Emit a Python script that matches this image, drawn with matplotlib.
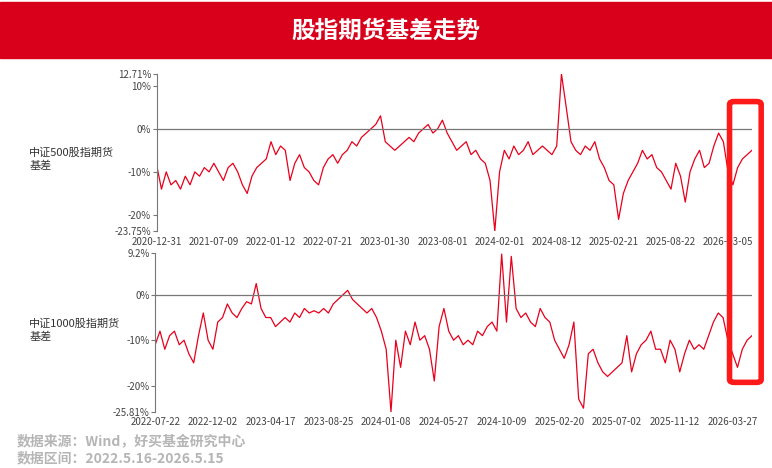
import matplotlib
matplotlib.use("Agg")
import matplotlib.pyplot as plt
from matplotlib.patches import Rectangle, FancyBboxPatch

plt.rcParams['font.family'] = ['Noto Sans CJK SC', 'DejaVu Sans']

top_ticks = ["2020-12-31","2021-07-09","2022-01-12","2022-07-21","2023-01-30","2023-08-01",
             "2024-02-01","2024-08-12","2025-02-21","2025-08-22","2026-03-05"]
top_vals = [-8.5,-14,-10,-13,-12,-14,-11,-13,-10,-11,-9,-10,
            -8,-10,-12,-9,-8,-10,-13,-15,-11,-9,-8,-7,
            -3,-6,-4,-5,-12,-8,-6,-9,-10,-12,-13,-9,
            -7,-6,-8,-6,-5,-3,-4,-2,-1,0,1,3,
            -3,-4,-5,-4,-3,-2,-3,-1,0,1,-1,0,
            2,-1,-3,-5,-4,-3,-6,-5,-7,-8,-12,-23.7,
            -10,-5,-7,-4,-6,-5,-3,-6,-5,-4,-5,-6,
            -4,12.7,5,-3,-5,-6,-4,-5,-3,-7,-9,-12,
            -13,-21,-15,-12,-10,-8,-5,-7,-6,-9,-10,-12,
            -14,-8,-11,-17,-10,-7,-5,-9,-8,-4,-1,-3,
            -10,-13,-9,-7,-6,-5]
bot_ticks = ["2022-07-22","2022-12-02","2023-04-17","2023-08-25","2024-01-08","2024-05-27",
             "2024-10-09","2025-02-20","2025-07-02","2025-11-12","2026-03-27"]
bot_vals = [-11,-8,-12,-9,-8,-11,-10,-13,-15,-9,-4,-10,
            -12,-6,-5,-2,-4,-5,-3,-1.5,-2,2.5,-3,-5,
            -5,-7,-6,-5,-6,-4,-5,-3,-4,-3.5,-4,-3,
            -4,-2,-1,0,1,-1,-2,-3,-4,-3,-5,-8,
            -12,-25.8,-10,-16,-8,-11,-6,-10,-9,-12,-19,-7,
            -3,-8,-10,-9,-11,-10,-11,-8,-9,-7,-6,-8,
            9,-6,8.5,-3,-5,-4,-6,-7,-3,-5,-6,-10,
            -12,-14,-11,-6,-23,-25,-13,-12,-15,-17,-18,-17,
            -16,-15,-9,-17,-13,-11,-10,-8,-12,-12,-15,-10,
            -12,-17,-13,-10,-12,-11,-12,-9,-6,-4,-5,-10,
            -13,-16,-12,-10,-9]

fig = plt.figure(figsize=(7.72, 4.68), dpi=100)
fig.patches.append(Rectangle((0, 0.876), 1, 0.12, transform=fig.transFigure, color='#d9001b', zorder=0))
fig.text(0.5, 0.935, "股指期货基差走势", color='white', fontsize=17, fontweight='bold', ha='center', va='center')

def panel(rect, vals, ticks, ylo, yhi, yt, ylab, label, ly):
    ax = fig.add_axes(rect)
    ax.plot(range(len(vals)), vals, color='#e8001c', lw=0.9)
    ax.axhline(0, color='#777777', lw=0.9)
    ax.set_xlim(0, len(vals) - 1)
    ax.set_ylim(ylo, yhi)
    ax.set_xticks([12 * i for i in range(len(ticks))])
    ax.set_xticklabels(ticks, fontsize=7, color='#444444')
    ax.tick_params(axis='x', length=0, pad=4)
    ax.set_yticks(yt)
    ax.set_yticklabels(ylab, fontsize=7, color='#444444')
    ax.tick_params(axis='y', length=3, color='#777777', pad=1)
    for s in ['top', 'right', 'bottom']:
        ax.spines[s].set_visible(False)
    ax.spines['left'].set_color('#777777')
    fig.text(0.038, ly, label, fontsize=8, color='#333333', va='center', linespacing=1.3)
    return ax

panel([0.203, 0.506, 0.771, 0.336], top_vals, top_ticks, -23.75, 12.71,
      [12.71, 10, 0, -10, -20, -23.75], ["12.71%", "10%", "0%", "-10%", "-20%", "-23.75%"],
      "中证500股指期货\n基差", 0.66)
panel([0.201, 0.12, 0.773, 0.339], bot_vals, bot_ticks, -25.81, 9.2,
      [9.2, 0, -10, -20, -25.81], ["9.2%", "0%", "-10%", "-20%", "-25.81%"],
      "中证1000股指期货\n基差", 0.295)

fig.patches.append(FancyBboxPatch((0.945, 0.183), 0.041, 0.600, transform=fig.transFigure,
                                  boxstyle="round,pad=0,rounding_size=0.006", fill=False,
                                  edgecolor='#ff1a1a', lw=4, zorder=10))
fig.text(0.022, 0.058, "数据来源：Wind，好买基金研究中心", fontsize=10, color='#b5b5b5', fontweight='bold', va='center')
fig.text(0.022, 0.02, "数据区间：2022.5.16-2026.5.15", fontsize=10, color='#b5b5b5', fontweight='bold', va='center')
fig.savefig("out.png", dpi=100)
